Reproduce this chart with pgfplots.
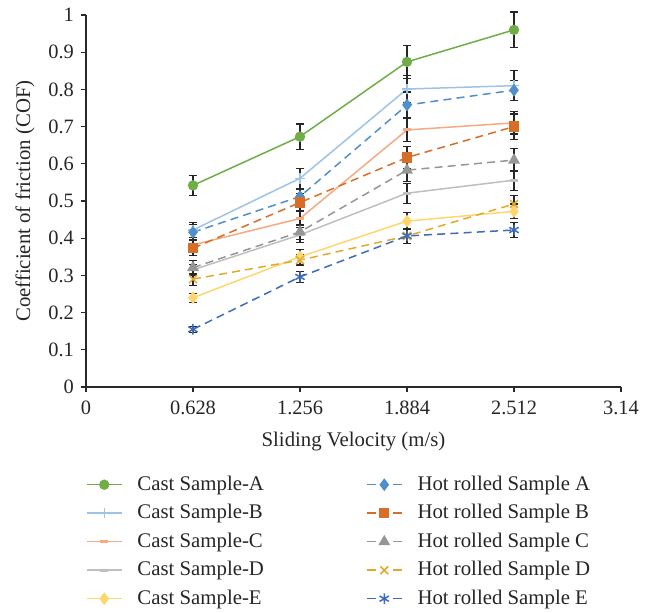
\documentclass[border=0pt]{standalone}
\usepackage{fontspec}
\setmainfont{Liberation Serif}
\usepackage{pgfplots}
\pgfplotsset{compat=1.18}

\definecolor{castA}{RGB}{112,173,71}
\definecolor{castB}{RGB}{157,195,230}
\definecolor{castC}{RGB}{244,170,130}
\definecolor{castD}{RGB}{191,191,191}
\definecolor{castE}{RGB}{255,214,110}
\definecolor{hotA}{RGB}{80,142,204}
\definecolor{hotB}{RGB}{214,110,40}
\definecolor{hotC}{RGB}{150,150,150}
\definecolor{hotD}{RGB}{226,170,45}
\definecolor{hotE}{RGB}{62,108,188}
\definecolor{axisgray}{RGB}{40,40,40}

\pgfplotsset{
  solid legend/.style={legend image code/.code={%
      \draw[mark repeat=2,mark phase=2,##1] plot coordinates {(0pt,0pt) (8.75pt,0pt) (17.5pt,0pt)};}},
  dashed legend/.style={legend image code/.code={%
      \draw[##1,solid,mark=none] (0pt,0pt) -- (4.5pt,0pt);
      \draw[##1,solid,mark=none] (13pt,0pt) -- (17.5pt,0pt);
      \draw[##1] plot coordinates {(8.75pt,0pt)};}},
  cast/.style={solid, line width=0.75pt, solid legend,
    error bars/y dir=both, error bars/y explicit},
  hot/.style={dash pattern=on 4pt off 2.6pt, line width=0.75pt, dashed legend,
    error bars/y dir=both, error bars/y explicit},
}

\begin{document}
\begin{tikzpicture}
\useasboundingbox (-43pt,-112.5pt) rectangle (281.5pt,193.5pt);
\begin{axis}[
  at={(0pt,0pt)}, anchor=south west,
  scale only axis,
  width=267.5pt, height=186pt,
  xmin=0, xmax=3.14, ymin=0, ymax=1,
  axis lines=left,
  axis line style={-, axisgray, line width=0.6pt},
  tick style={axisgray, line width=0.6pt},
  tick align=outside,
  major tick length=2.5pt,
  xtick={0,0.628,1.256,1.884,2.512,3.14},
  xticklabels={0,0.628,1.256,1.884,2.512,3.14},
  ytick={0,0.1,...,1.01},
  yticklabel style={/pgf/number format/fixed},
  xticklabel style={yshift=-1pt},
  /pgf/number format/assume math mode=true,
  tick label style={font=\fontsize{10.2}{12}\selectfont, text=black!85},
  label style={font=\fontsize{10.4}{12}\selectfont, text=black!85},
  xlabel={Sliding Velocity (m/s)},
  ylabel={Coefficient of friction (COF)},
  xlabel style={at={(axis description cs:0.5,0)}, anchor=center, yshift=-27.5pt},
  ylabel style={at={(axis description cs:-0.114,0.5)}, anchor=center},
  clip=false,
  error bars/error bar style={black!85, line width=0.55pt, solid},
  error bars/error mark options={black!85, rotate=90, mark size=2.1pt, line width=0.55pt, solid},
  legend columns=5,
  transpose legend,
  legend style={
    at={(axis description cs:0,0)}, anchor=north west, yshift=-44pt,
    draw=none, fill=none, inner sep=0pt, outer sep=0pt,
    font=\fontsize{10.4}{12}\selectfont, text=black!85,
    row sep=4.55pt,
    nodes={inner sep=0pt, text height=7.5pt, text depth=2.2pt, anchor=west},
    /tikz/every odd column/.append style={column sep=7.5pt},
    /tikz/every even column/.append style={column sep=51pt},
  },
  legend cell align=left,
]

% Cast samples
\addplot[cast, castA, mark=*, mark size=2.2pt, mark options={solid, fill=castA}]
  table[x=x, y=y, y error=e] {
x     y     e
0.628 0.542 0.027
1.256 0.673 0.034
1.884 0.874 0.045
2.512 0.960 0.048
};
\addlegendentry{Cast Sample-A}

\addplot[cast, castB, mark=+, mark size=2.6pt, mark options={solid, line width=0.6pt}]
  table[x=x, y=y, y error=e] {
x     y     e
0.628 0.422 0.020
1.256 0.561 0.027
1.884 0.801 0.037
2.512 0.810 0.040
};
\addlegendentry{Cast Sample-B}

\addplot[cast, castC, mark=-, mark size=2pt, mark options={solid, line width=1.5pt}]
  table[x=x, y=y, y error=e] {
x     y     e
0.628 0.382 0.020
1.256 0.453 0.020
1.884 0.691 0.030
2.512 0.710 0.030
};
\addlegendentry{Cast Sample-C}

\addplot[cast, castD, mark=-, mark size=2pt, mark options={solid, line width=1.5pt}]
  table[x=x, y=y, y error=e] {
x     y     e
0.628 0.315 0.015
1.256 0.409 0.020
1.884 0.521 0.027
2.512 0.556 0.027
};
\addlegendentry{Cast Sample-D}

\addplot[cast, castE, mark=diamond*, mark size=2.6pt, mark options={solid, fill=castE}]
  table[x=x, y=y, y error=e] {
x     y     e
0.628 0.240 0.012
1.256 0.350 0.020
1.884 0.446 0.022
2.512 0.472 0.020
};
\addlegendentry{Cast Sample-E}

% Hot rolled samples
\addplot[hot, hotA, mark=diamond*, mark size=2.6pt, mark options={solid, fill=hotA}]
  table[x=x, y=y, y error=e] {
x     y     e
0.628 0.416 0.020
1.256 0.512 0.020
1.884 0.758 0.035
2.512 0.798 0.027
};
\addlegendentry{Hot rolled Sample A}

\addplot[hot, hotB, mark=square*, mark size=2.2pt, mark options={solid, fill=hotB}]
  table[x=x, y=y, y error=e] {
x     y     e
0.628 0.373 0.020
1.256 0.496 0.025
1.884 0.617 0.030
2.512 0.700 0.034
};
\addlegendentry{Hot rolled Sample B}

\addplot[hot, hotC, mark=triangle*, mark size=2.7pt, mark options={solid, fill=hotC}]
  table[x=x, y=y, y error=e] {
x     y     e
0.628 0.321 0.018
1.256 0.417 0.020
1.884 0.583 0.030
2.512 0.610 0.031
};
\addlegendentry{Hot rolled Sample C}

\addplot[hot, hotD, mark=x, mark size=2.8pt, mark options={solid, line width=0.75pt}]
  table[x=x, y=y, y error=e] {
x     y     e
0.628 0.290 0.016
1.256 0.341 0.015
1.884 0.406 0.020
2.512 0.492 0.024
};
\addlegendentry{Hot rolled Sample D}

\addplot[hot, hotE, mark=asterisk, mark size=2.7pt, mark options={solid, line width=0.75pt}]
  table[x=x, y=y, y error=e] {
x     y     e
0.628 0.155 0.008
1.256 0.296 0.015
1.884 0.406 0.020
2.512 0.422 0.020
};
\addlegendentry{Hot rolled Sample E}

\end{axis}
\end{tikzpicture}
\end{document}
